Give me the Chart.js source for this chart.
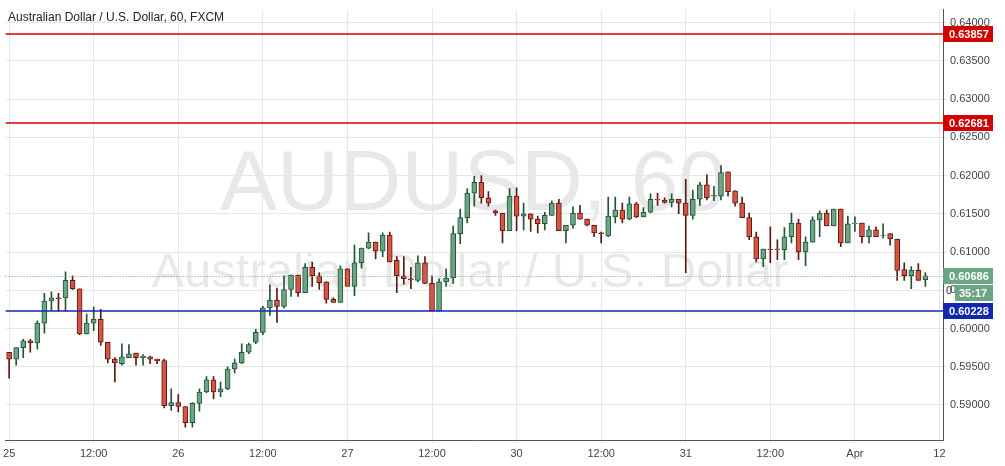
<!DOCTYPE html>
<html>
<head>
<meta charset="utf-8">
<script src="https://cdn.jsdelivr.net/npm/chart.js@4/dist/chart.umd.min.js"></script>
<style>
  html, body { margin: 0; padding: 0; background: #fff; }
  #wrap { width: 1005px; height: 466px; position: relative; }
</style>
</head>
<body>
<div id="wrap"><canvas id="c"></canvas></div>
<script>
// hourly AUD/USD candles, [open, high, low, close]
const candles = [
  [.5969,.5969,.5935,.5960],[.5960,.5975,.5952,.5975],[.5975,.5986,.5962,.5984],[.5984,.5986,.5969,.5981],
  [.5981,.6010,.5973,.6007],[.6007,.6046,.5994,.6036],[.6036,.6048,.6024,.6040],[.6040,.6046,.6023,.6039],
  [.6040,.6074,.6023,.6063],[.6063,.6069,.6051,.6052],[.6052,.6052,.5992,.5993],[.5993,.6019,.5993,.6007],
  [.6007,.6028,.5997,.6012],[.6012,.6025,.5978,.5982],[.5982,.5982,.5955,.5960],[.5960,.5962,.5930,.5955],
  [.5954,.5980,.5952,.5963],[.5962,.5979,.5962,.5967],[.5968,.5968,.5952,.5962],[.5962,.5966,.5952,.5964],
  [.5963,.5964,.5954,.5960],[.5960,.5960,.5954,.5958],[.5958,.5960,.5896,.5899],[.5899,.5921,.5893,.5903],
  [.5903,.5914,.5891,.5898],[.5898,.5898,.5871,.5877],[.5877,.5903,.5871,.5902],[.5902,.5921,.5892,.5917],
  [.5917,.5937,.5916,.5933],[.5933,.5937,.5908,.5917],[.5917,.5930,.5911,.5921],[.5921,.5950,.5920,.5947],
  [.5947,.5960,.5942,.5955],[.5955,.5980,.5954,.5969],[.5969,.5981,.5967,.5979],[.5982,.5999,.5980,.5995],
  [.5995,.6029,.5992,.6027],[.6027,.6057,.6017,.6037],[.6037,.6053,.6008,.6029],[.6029,.6069,.6027,.6051],
  [.6051,.6070,.6042,.6070],[.6070,.6070,.6042,.6047],[.6047,.6085,.6047,.6080],[.6080,.6087,.6055,.6069],
  [.6069,.6073,.6051,.6060],[.6061,.6061,.6033,.6038],[.6038,.6040,.6034,.6034],[.6034,.6082,.6034,.6078],
  [.6078,.6078,.6056,.6055],[.6055,.6109,.6043,.6086],[.6086,.6105,.6079,.6105],[.6105,.6125,.6104,.6113],
  [.6113,.6113,.6091,.6101],[.6101,.6125,.6094,.6122],[.6122,.6126,.6087,.6087],[.6089,.6094,.6047,.6069],
  [.6069,.6094,.6058,.6065],[.6065,.6080,.6052,.6064],[.6063,.6095,.6061,.6086],[.6086,.6094,.6059,.6059],
  [.6059,.6069,.6023,.6023],[.6023,.6065,.6023,.6061],[.6061,.6078,.6055,.6066],[.6066,.6134,.6059,.6124],
  [.6124,.6156,.6111,.6145],[.6145,.6183,.6138,.6177],[.6177,.6199,.6160,.6191],[.6191,.6200,.6164,.6171],
  [.6171,.6179,.6160,.6164],[.6154,.6155,.6148,.6151],[.6151,.6151,.6112,.6128],[.6128,.6183,.6128,.6173],
  [.6173,.6184,.6128,.6147],[.6147,.6164,.6129,.6150],[.6150,.6150,.6127,.6143],[.6143,.6147,.6125,.6137],
  [.6137,.6152,.6129,.6148],[.6148,.6167,.6148,.6164],[.6164,.6169,.6128,.6128],[.6128,.6135,.6112,.6135],
  [.6135,.6159,.6131,.6151],[.6151,.6161,.6143,.6143],[.6143,.6143,.6134,.6135],[.6135,.6135,.6120,.6125],
  [.6125,.6126,.6112,.6124],[.6121,.6172,.6120,.6147],[.6146,.6172,.6138,.6155],[.6155,.6164,.6138,.6143],
  [.6143,.6172,.6142,.6163],[.6163,.6165,.6145,.6146],[.6146,.6158,.6146,.6152],[.6152,.6176,.6151,.6169],
  [.6169,.6177,.6161,.6168],[.6168,.6171,.6164,.6165],[.6165,.6176,.6159,.6169],[.6169,.6169,.6150,.6164],
  [.6164,.6195,.6073,.6148],[.6148,.6181,.6143,.6169],[.6169,.6191,.6161,.6188],[.6188,.6201,.6168,.6171],
  [.6173,.6186,.6167,.6174],[.6173,.6213,.6168,.6204],[.6205,.6205,.6173,.6179],[.6180,.6180,.6160,.6164],
  [.6164,.6172,.6145,.6145],[.6145,.6151,.6116,.6120],[.6120,.6126,.6087,.6091],[.6091,.6104,.6081,.6104],
  [.6104,.6133,.6086,.6103],[.6104,.6116,.6090,.6103],[.6103,.6132,.6090,.6120],[.6120,.6151,.6112,.6138],
  [.6138,.6143,.6090,.6100],[.6100,.6120,.6082,.6113],[.6113,.6146,.6113,.6142],[.6142,.6154,.6120,.6151],
  [.6151,.6155,.6134,.6134],[.6134,.6156,.6134,.6156],[.6156,.6156,.6107,.6112],[.6112,.6147,.6112,.6137],
  [.6137,.6146,.6127,.6138],[.6138,.6138,.6112,.6120],[.6120,.6134,.6112,.6129],[.6129,.6133,.6120,.6120],
  [.6122,.6137,.6118,.6122],[.6124,.6124,.6109,.6117],[.6117,.6117,.6063,.6076],[.6077,.6086,.6063,.6069],
  [.6069,.6081,.6052,.6076],[.6076,.6085,.6063,.6063],[.6064,.6073,.6055,.6069]
];
const timeLabels = { 0: '25', 12: '12:00', 24: '26', 36: '12:00', 48: '27', 60: '12:00',
  72: '30', 84: '12:00', 96: '31', 108: '12:00', 120: 'Apr', 132: '12' };
const slotCount = 133;
const priceTicks = [0.59, 0.595, 0.60, 0.605, 0.61, 0.615, 0.62, 0.625, 0.63, 0.635, 0.64];
const levelLines = [
  { value: 0.63857, color: '#d20000', label: '0.63857' },
  { value: 0.62681, color: '#d20000', label: '0.62681' },
  { value: 0.60228, color: '#1028b0', label: '0.60228' }
];
const lastPrice = 0.60686;
const countdown = '35:17';

const labels = Array.from({ length: slotCount }, (_, i) => timeLabels[i] || '');
const UP = '#6ba583', UP_EDGE = '#225437', DOWN = '#d75442', DOWN_EDGE = '#5b1a13';
const isUp = c => c[3] >= c[0];

const bodies = candles.map(c => c[0] === c[3] ? [c[0] - 0.00002, c[3] + 0.00002] : [c[0], c[3]]);
const wicks = candles.map(c => [c[2], c[1]]);

const overlay = {
  id: 'overlay',
  beforeDraw(chart) {
    const { ctx } = chart;
    ctx.save();
    ctx.fillStyle = 'rgba(0,0,0,0.09)';
    ctx.textAlign = 'center';
    ctx.textBaseline = 'middle';
    ctx.font = '86px "Liberation Sans", Arial, sans-serif';
    ctx.fillText('AUDUSD, 60', 473, 186);
    ctx.font = '49px "Liberation Sans", Arial, sans-serif';
    ctx.fillText('Australian Dollar / U.S. Dollar', 470, 273);
    ctx.restore();
  },
  afterDatasetsDraw(chart) {
    const { ctx, chartArea: a, scales: { y } } = chart;
    ctx.save();
    const tag = (val, text, bg, fg) => {
      const py = Math.round(y.getPixelForValue(val));
      ctx.fillStyle = bg;
      ctx.fillRect(a.right, py - 8, 50, 16);
      ctx.fillStyle = fg;
      ctx.font = 'bold 11px "Liberation Sans", Arial, sans-serif';
      ctx.textAlign = 'left';
      ctx.textBaseline = 'middle';
      ctx.fillText(text, a.right + 6, py + 1);
      return py;
    };
    const lp = Math.round(y.getPixelForValue(lastPrice)) + 0.5;
    ctx.strokeStyle = '#6ba583';
    ctx.setLineDash([1, 2]);
    ctx.lineWidth = 1;
    ctx.beginPath(); ctx.moveTo(a.left, lp); ctx.lineTo(a.right, lp); ctx.stroke();
    ctx.setLineDash([]);
    levelLines.forEach(l => {
      const py = Math.round(y.getPixelForValue(l.value));
      ctx.strokeStyle = l.color;
      ctx.lineWidth = 1.6;
      ctx.beginPath(); ctx.moveTo(a.left, py); ctx.lineTo(a.right, py); ctx.stroke();
      tag(l.value, l.label, l.color, '#fff');
    });
    const p = tag(lastPrice, lastPrice.toFixed(5), '#6ba583', '#fff');
    ctx.fillStyle = '#6ba583';
    ctx.fillRect(a.right + 12, p + 9, 38, 16);
    ctx.fillStyle = '#fff';
    ctx.fillText(countdown, a.right + 16, p + 18);
    ctx.fillStyle = '#333';
    ctx.font = '11px "Liberation Sans", Arial, sans-serif';
    ctx.fillText('0', a.right + 3, p + 15);
    ctx.fillStyle = '#222';
    ctx.font = '12px "Liberation Sans", Arial, sans-serif';
    ctx.fillText('Australian Dollar / U.S. Dollar, 60, FXCM', 8, 18);
    ctx.restore();
  }
};

new Chart(document.getElementById('c'), {
  type: 'bar',
  data: {
    labels,
    datasets: [
      {
        data: bodies, order: 0, grouped: false, barThickness: 5,
        backgroundColor: candles.map(c => isUp(c) ? UP : DOWN),
        borderColor: candles.map(c => isUp(c) ? UP_EDGE : DOWN_EDGE),
        borderWidth: 1, borderSkipped: false
      },
      {
        data: wicks, order: 1, grouped: false, barThickness: 1,
        backgroundColor: candles.map(c => isUp(c) ? UP_EDGE : DOWN_EDGE)
      }
    ]
  },
  options: {
    responsive: true, maintainAspectRatio: false, animation: false,
    layout: { padding: { left: 5, top: 0, right: 0, bottom: 0 } },
    plugins: { legend: { display: false }, tooltip: { enabled: false } },
    scales: {
      x: {
        offset: true,
        grid: { color: ctx => labels[ctx.index] ? '#e6e6e6' : 'rgba(0,0,0,0)', tickLength: 4, offset: false },
        border: { color: '#555' },
        ticks: { autoSkip: false, maxRotation: 0, color: '#444', font: { size: 11, family: 'Liberation Sans' },
          callback: (v, i) => labels[i] },
        afterFit: s => { s.height = 26; }
      },
      y: {
        position: 'right', min: 0.58542, max: 0.64170,
        afterBuildTicks: s => { s.ticks = priceTicks.map(v => ({ value: v })); },
        grid: { color: '#e6e6e6', tickLength: 4 },
        border: { color: '#555' },
        ticks: { color: '#444', font: { size: 11, family: 'Liberation Sans' }, callback: v => v.toFixed(5) },
        afterFit: s => { s.width = 62; }
      }
    }
  },
  plugins: [overlay]
});
</script>
</body>
</html>
